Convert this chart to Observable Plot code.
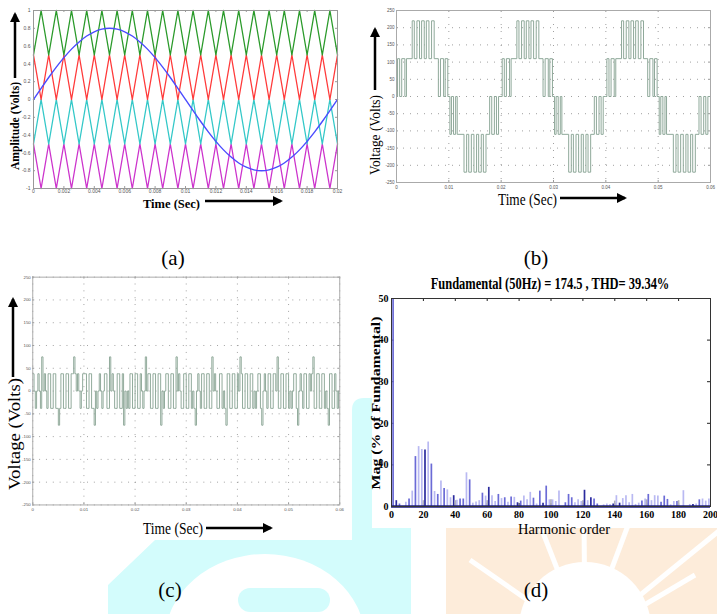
<!DOCTYPE html>
<html><head><meta charset="utf-8">
<script src="https://cdn.jsdelivr.net/npm/d3@7"></script>
<script src="https://cdn.jsdelivr.net/npm/@observablehq/plot@0.6"></script>
<style>
html,body{margin:0;padding:0;background:#fff;}
#page{position:relative;width:717px;height:614px;overflow:hidden;background:#fff;}
.panel{position:absolute;overflow:visible;}
.panel svg{display:block;overflow:visible;}
.wm,#overlay{position:absolute;left:0;top:0;}
#overlay{pointer-events:none;}
</style></head><body>
<div id="page">
<svg class="wm" width="717" height="614">
  <path d="M108,614 L108,585 L155,540 L352,540 L352,410 Q352,398 364,398 L411,398 L411,614 Z" fill="#d3fcfc"/>
  <ellipse cx="265" cy="640" rx="100" ry="86" fill="#fff"/>
  <rect x="238" y="588" width="92" height="24" rx="12" fill="#d3fcfc"/>
  <rect x="446" y="528" width="271" height="86" fill="#fdecda"/>
  <g stroke="#fff" stroke-width="5">
    <line x1="585" y1="640" x2="538" y2="520"/>
    <line x1="585" y1="640" x2="584" y2="520"/>
    <line x1="585" y1="640" x2="630" y2="520"/>
    <line x1="585" y1="640" x2="470" y2="560"/>
    <line x1="585" y1="640" x2="695" y2="575"/>
    <line x1="585" y1="640" x2="720" y2="530"/>
  </g>
  <circle cx="585" cy="628" r="66" fill="#fff"/>
</svg>
<div class="panel" id="pa" style="left:0;top:0;"></div>
<div class="panel" id="pb" style="left:380px;top:0;"></div>
<div class="panel" id="pc" style="left:0;top:262px;width:350px;height:278px;background:#fff;"></div>
<div class="panel" id="pd" style="left:372px;top:262px;width:345px;height:266px;background:#fff;"></div>
<svg id="overlay" width="717" height="614">
  <defs>
    <marker id="ah" viewBox="0 0 10 10" refX="8" refY="5" markerWidth="4" markerHeight="4" orient="auto">
      <path d="M0,0 L10,5 L0,10 Z" fill="#000"/>
    </marker>
  </defs>
  <g font-family="'Liberation Serif', 'Times New Roman', serif" fill="#000" dominant-baseline="central">
    <!-- (a) -->
    <text transform="translate(15,126) rotate(-90)" text-anchor="middle" font-weight="bold" font-size="12" textLength="88" lengthAdjust="spacingAndGlyphs">Amplitude (Volts)</text>
    <text x="143" y="203" font-weight="bold" font-size="13" textLength="57" lengthAdjust="spacingAndGlyphs">Time (Sec)</text>
    <!-- (b) -->
    <text transform="translate(375,135) rotate(-90)" text-anchor="middle" font-size="15" textLength="80" lengthAdjust="spacingAndGlyphs">Voltage (Volts)</text>
    <text x="498" y="199" font-size="16" textLength="59" lengthAdjust="spacingAndGlyphs">Time (Sec)</text>
    <!-- (c) -->
    <text transform="translate(14,434) rotate(-90)" text-anchor="middle" font-size="16" textLength="112" lengthAdjust="spacingAndGlyphs">Voltage (Volts)</text>
    <text x="143" y="528" font-size="16" textLength="60" lengthAdjust="spacingAndGlyphs">Time (Sec)</text>
    <!-- (d) -->
    <text transform="translate(376,403) rotate(-90)" text-anchor="middle" font-weight="bold" font-size="12" textLength="173" lengthAdjust="spacingAndGlyphs">Mag (% of Fundamental)</text>
    <text x="518" y="529" font-size="15" textLength="92" lengthAdjust="spacingAndGlyphs">Harmonic order</text>
    <text transform="translate(550,283) scale(0.78,1)" text-anchor="middle" font-weight="bold" font-size="16">Fundamental (50Hz) = 174.5 , THD= 39.34%</text>
    <!-- panel letters -->
    <text x="173" y="258" text-anchor="middle" font-size="21">(a)</text>
    <text x="536" y="258" text-anchor="middle" font-size="21">(b)</text>
    <text x="170" y="590" text-anchor="middle" font-size="21">(c)</text>
    <text x="536" y="590" text-anchor="middle" font-size="21">(d)</text>
  </g>
  <g stroke="#000" stroke-width="2.5" marker-end="url(#ah)">
    <line x1="15" y1="78" x2="15" y2="14"/>
    <line x1="205" y1="201" x2="281" y2="201"/>
    <line x1="375" y1="90" x2="375" y2="29"/>
    <line x1="560" y1="198" x2="625" y2="198"/>
    <line x1="13" y1="377" x2="13" y2="299"/>
    <line x1="206" y1="528" x2="271" y2="528"/>
  </g>
</svg>
</div>
<script>
// ---------------- (a) carriers and sinusoidal reference ----------------
const aTime = [0,0.0005,0.001,0.0015,0.002,0.0025,0.003,0.0035,0.004,0.0045,0.005,0.0055,0.006,0.0065,0.007,0.0075,0.008,0.0085,0.009,0.0095,0.01,0.0105,0.011,0.0115,0.012,0.0125,0.013,0.0135,0.014,0.0145,0.015,0.0155,0.016,0.0165,0.017,0.0175,0.018,0.0185,0.019,0.0195,0.02];
const aGreen = [0.5,1,0.5,1,0.5,1,0.5,1,0.5,1,0.5,1,0.5,1,0.5,1,0.5,1,0.5,1,0.5,1,0.5,1,0.5,1,0.5,1,0.5,1,0.5,1,0.5,1,0.5,1,0.5,1,0.5,1,0.5];
const aRed = [0.5,0,0.5,0,0.5,0,0.5,0,0.5,0,0.5,0,0.5,0,0.5,0,0.5,0,0.5,0,0.5,0,0.5,0,0.5,0,0.5,0,0.5,0,0.5,0,0.5,0,0.5,0,0.5,0,0.5,0,0.5];
const aCyan = [-0.5,0,-0.5,0,-0.5,0,-0.5,0,-0.5,0,-0.5,0,-0.5,0,-0.5,0,-0.5,0,-0.5,0,-0.5,0,-0.5,0,-0.5,0,-0.5,0,-0.5,0,-0.5,0,-0.5,0,-0.5,0,-0.5,0,-0.5,0,-0.5];
const aMagenta = [-0.5,-1,-0.5,-1,-0.5,-1,-0.5,-1,-0.5,-1,-0.5,-1,-0.5,-1,-0.5,-1,-0.5,-1,-0.5,-1,-0.5,-1,-0.5,-1,-0.5,-1,-0.5,-1,-0.5,-1,-0.5,-1,-0.5,-1,-0.5,-1,-0.5,-1,-0.5,-1,-0.5];
const aSine = [0,0.125,0.247,0.363,0.47,0.566,0.647,0.713,0.761,0.79,0.8,0.79,0.761,0.713,0.647,0.566,0.47,0.363,0.247,0.125,0,-0.125,-0.247,-0.363,-0.47,-0.566,-0.647,-0.713,-0.761,-0.79,-0.8,-0.79,-0.761,-0.713,-0.647,-0.566,-0.47,-0.363,-0.247,-0.125,0];
const aXTicks = [0,0.002,0.004,0.006,0.008,0.01,0.012,0.014,0.016,0.018,0.02];
const aYTicks = [-1,-0.8,-0.6,-0.4,-0.2,0,0.2,0.4,0.6,0.8,1];

// ---------------- (b) seven-level output, one period of steps (ms, V) ----------------
const bPeriod = [[0,0],[0.2,110],[0.6,0],[1.0,110],[1.6,0],[1.9,110],
  [3.0,220],[3.4,110],[3.9,220],[4.4,110],[4.8,220],[5.3,110],[5.7,220],[6.2,110],[6.7,220],[7.2,110],
  [8.0,0],[8.4,110],[9.0,0],[9.3,110],[9.8,0],
  [10.2,-110],[10.5,0],[10.9,-110],[11.3,0],[11.6,-110],
  [12.9,-220],[13.4,-110],[13.8,-220],[14.3,-110],[14.8,-220],[15.3,-110],[15.7,-220],[16.2,-110],[16.6,-220],[17.1,-110],
  [17.8,0],[18.2,-110],[18.7,0],[19.1,-110],[19.5,0],[20,0]];
const bPeriodStartsMs = [0,20,40];
const bXTicks = [0,0.01,0.02,0.03,0.04,0.05,0.06];
const vYTicks = [-250,-200,-150,-100,-50,0,50,100,150,200,250];

// ---------------- (c) output, levels per 0.25 ms slot ----------------
// a=+38, b=-38, 0=0, A=+75, B=-75 (each string covers 5 ms)
const cSlotMs = 0.25;
const cCodes = ["a0b0a0bA0a0baabbaabb","BbaabbaabbaaAa0a0b0a","aabbaabbB0b0a0b0aabb","A0a0bbaabbaB0b0baabb",
  "aabba0b0A0aabbaabbaa","B0b0aabbaabbA0a0bbaa","bbaab0bB0a0baabbaabb","A0a0bbaab0bBaabbaabb",
  "a0Aabbaabbaab0b0aabB","0a0baabbaa0Abbaabbaa","b0b0aabB0a0baabba0aA","bbaabbaab0bBaabba0b0"];
const cLevel = {a:38, b:-38, "0":0, A:75, B:-75};

// ---------------- (d) harmonic spectrum ----------------
const dOrder = [1,3,5,9,11,13,15,17,19,20,21,23,25,27,29,31,33,35,37,39,40,41,43,45,47,49,51,53,55,57,59,60,61,63,65,67,69,71,73,75,77,79,81,83,85,87,89,91,93,95,97,99,100,101,103,105,109,111,113,115,117,119,120,121,123,125,127,129,133,135,137,139,140,141,143,145,147,149,151,153,155,157,159,160,161,163,165,167,169,171,173,175,177,179,180,183,187,189,191,193,195,197,199];
const dMag = [100,1.4,0.6,1.0,1.8,3.7,12.0,14.4,13.7,1.4,13.6,15.5,10.2,3.6,2.9,6.1,4.3,4.0,2.1,2.6,1.4,1.5,1.8,1.8,8.1,6.4,0.8,1.1,1.4,3.2,2.5,1.4,4.6,2.6,1.2,2.9,1.9,2.1,1.0,2.3,2.2,0.9,1.3,2.5,1.6,3.4,2.0,0.6,3.7,0.8,4.9,1.6,1.6,1.6,1.2,3.7,0.9,2.9,2.1,0.9,1.6,1.2,1.4,3.9,1.4,2.1,1.8,0.6,0.4,0.6,0.5,0.6,1.3,2.6,0.8,1.9,2.6,0.9,2.9,0.5,0.8,1.3,1.8,1.6,2.9,1.4,2.6,2.5,1.0,2.5,1.7,0.4,1.2,1.2,1.4,3.8,0.5,0.5,0.6,1.6,1.8,1.3,1.8];
const dTone = "MDMLMLMLLG" + "DLMLMLMLLD" + "GLMMLMLLLM" + "LGDLLMLMLM" + "LDMLLLMLMD" + "MLGLLLMMML" + "LLGDLDMMLL" + "LDGLDLLLLL" + "LMLGMLLLMM" + "MLLMGLLDLM" + "LLL";
const dToneColor = {D:"#2b2b9e", M:"#6b6bd6", L:"#b9b9f2", G:"#b0b0bc"};
const dXTicks = [0,20,40,60,80,100,120,140,160,180,200];
const dYTicks = [0,10,20,30,40,50];

// ---------- helpers ----------
const fmt = d => String(d);
function innerTicks(xt, yt, w, h, len, stroke) {
  return [
    Plot.tickX(xt, {x: d => d, insetTop: h - len, stroke}),
    Plot.tickX(xt, {x: d => d, insetBottom: h - len, stroke}),
    Plot.tickY(yt, {y: d => d, insetRight: w - len, stroke}),
    Plot.tickY(yt, {y: d => d, insetLeft: w - len, stroke})
  ];
}
const smallStyle = {fontFamily: "'Liberation Sans', sans-serif", fontSize: "5px", color: "#555", background: "transparent"};

// ---------- (a) ----------
const pa = Plot.plot({
  width: 345, height: 200, marginLeft: 33, marginRight: 8, marginTop: 10, marginBottom: 12,
  x: {domain: [0, 0.02]}, y: {domain: [-1, 1]},
  style: smallStyle,
  marks: [
    Plot.axisX({ticks: aXTicks, tickFormat: fmt, tickSize: 0, tickPadding: 1, label: null}),
    Plot.axisY({ticks: aYTicks, tickFormat: fmt, tickSize: 0, tickPadding: 3, label: null}),
    ...innerTicks(aXTicks, aYTicks, 304, 178, 2, "#999"),
    Plot.line(aTime, {x: aTime, y: aMagenta, stroke: "#cc33cc", strokeWidth: 1.3}),
    Plot.line(aTime, {x: aTime, y: aCyan, stroke: "#33c8c8", strokeWidth: 1.3}),
    Plot.line(aTime, {x: aTime, y: aRed, stroke: "#ff3a3a", strokeWidth: 1.3}),
    Plot.line(aTime, {x: aTime, y: aGreen, stroke: "#2a9a2a", strokeWidth: 1.3}),
    Plot.line(aTime, {x: aTime, y: aSine, stroke: "#4b4bff", strokeWidth: 1.4, curve: "natural"}),
    Plot.frame({stroke: "#999"})
  ]
});
document.getElementById("pa").appendChild(pa);

// ---------- (b) ----------
const bSeries = [];
bPeriodStartsMs.forEach(p0 => bPeriod.forEach(([t, v]) => bSeries.push({t: (p0 + t) / 1000, v})));
const pb = Plot.plot({
  width: 337, height: 200, marginLeft: 16, marginRight: 7, marginTop: 10, marginBottom: 18,
  x: {domain: [0, 0.06]}, y: {domain: [-250, 250]},
  style: {...smallStyle, fontSize: "4.5px"},
  marks: [
    Plot.gridX(bXTicks, {stroke: "#888", strokeOpacity: 0.8, strokeDasharray: "1,6"}),
    Plot.gridY(vYTicks, {stroke: "#888", strokeOpacity: 0.8, strokeDasharray: "1,6"}),
    Plot.axisX({ticks: bXTicks, tickFormat: fmt, tickSize: 0, tickPadding: 3, label: null}),
    Plot.axisY({ticks: vYTicks, tickFormat: fmt, tickSize: 0, tickPadding: 2, label: null}),
    ...innerTicks(bXTicks, vYTicks, 314, 172, 2, "#999"),
    Plot.line(bSeries, {x: "t", y: "v", curve: "step-after", stroke: "#8fa99a", strokeWidth: 1}),
    Plot.frame({stroke: "#aaa"})
  ]
});
document.getElementById("pb").appendChild(pb);

// ---------- (c) ----------
const cSeries = [];
cCodes.join("").split("").forEach((ch, i) => cSeries.push({t: i * cSlotMs / 1000, v: cLevel[ch]}));
cSeries.push({t: 0.06, v: cSeries[cSeries.length - 1].v});
const pc = Plot.plot({
  width: 358, height: 260, marginLeft: 33, marginRight: 11, marginTop: 15, marginBottom: 12,
  x: {domain: [0, 0.06]}, y: {domain: [-250, 250]},
  style: {...smallStyle, fontSize: "4.5px"},
  marks: [
    Plot.gridX(bXTicks, {stroke: "#888", strokeOpacity: 0.8, strokeDasharray: "1,6"}),
    Plot.gridY(vYTicks, {stroke: "#888", strokeOpacity: 0.8, strokeDasharray: "1,6"}),
    Plot.axisX({ticks: bXTicks, tickFormat: fmt, tickSize: 0, tickPadding: 3, label: null}),
    Plot.axisY({ticks: vYTicks, tickFormat: fmt, tickSize: 0, tickPadding: 2, label: null}),
    ...innerTicks(bXTicks, vYTicks, 314, 233, 2, "#999"),
    Plot.line(cSeries, {x: "t", y: "v", curve: "step-after", stroke: "#8fa99a", strokeWidth: 1}),
    Plot.frame({stroke: "#aaa"})
  ]
});
document.getElementById("pc").appendChild(pc);

// ---------- (d) ----------
const dIdx = dOrder.map((h, i) => i);
const pd = Plot.plot({
  width: 345, height: 266, marginLeft: 19, marginRight: 7, marginTop: 36, marginBottom: 22,
  x: {domain: [0, 200]}, y: {domain: [0, 50]},
  color: {type: "identity"},
  style: {fontFamily: "'Liberation Serif', serif", fontSize: "10px", color: "#000", background: "transparent"},
  marks: [
    Plot.axisX({ticks: dXTicks, tickFormat: fmt, tickSize: 0, tickPadding: 4, label: null, fontWeight: "bold", fontSize: 10}),
    Plot.axisY({ticks: dYTicks, tickFormat: fmt, tickSize: 0, tickPadding: 3, label: null, fontWeight: "bold", fontSize: 10}),
    ...innerTicks(dXTicks, dYTicks, 319, 208, 3, "#222"),
    Plot.ruleX(dIdx, {x: i => dOrder[i], y1: () => 0, y2: i => dMag[i], stroke: i => dToneColor[dTone[i]], strokeWidth: 1.7, clip: true}),
    Plot.ruleY([0], {stroke: "#1c1c80", strokeWidth: 2.5}),
    Plot.frame({stroke: "#333"})
  ]
});
document.getElementById("pd").appendChild(pd);
</script>
</body></html>
